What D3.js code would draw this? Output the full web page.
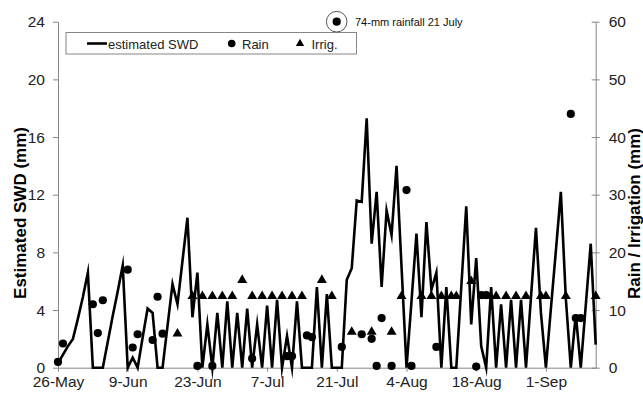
<!DOCTYPE html>
<html><head><meta charset="utf-8">
<script src="https://cdn.jsdelivr.net/npm/d3@7"></script>
<style>
html,body{margin:0;padding:0;background:#fff;}
svg{display:block;font-family:"Liberation Sans",Arial,sans-serif;}
</style></head>
<body><svg id="c" width="643" height="394"></svg>
<script>
// day index 0 = 26-May
const tickDays   = [0, 14, 28, 42, 56, 70, 84, 98];
const tickLabels = ["26-May","9-Jun","23-Jun","7-Jul","21-Jul","4-Aug","18-Aug","1-Sep"];
const swdDays = d3.range(0, 109);
const swd = [0.3,0.9,1.5,2.0,3.4,4.9,6.6,0,0,0, 1.8,3.6,5.3,7.1,0,0.7,0,2.1,4.1,3.8,
  0,0,2.9,5.8,4.4,7.4,10.4,3.5,6.6,0, 3.0,0,3.8,0,4.6,0,3.8,0,4.1,0,
  3.0,0,4.3,0,4.7,0,2.2,0,4.6,0, 0,0,5.6,0,5.1,0,0,0,6.1,6.9,
  11.6,11.5,17.3,8.6,12.2,5.6,10.9,9.2,14.0,7.0, 0,4.6,9.3,3.5,10.1,5.4,6.6,0,5.6,0,
  0,5.6,11.2,3.0,7.6,1.5,0,5.6,0,4.4, 0,4.7,0,4.7,0,4.9,9.7,3.8,0,4.1,
  8.1,12.2,4.8,0,3.7,0,4.3,8.6,1.6];
const rainDays = [0,1,7,8,9,14,15,16,19,20,21,28,31,39,46,47,50,51,57,61,63,64,65,67,70,71,76,84,85,86,103,104,105];
const rainMm   = [1.0,4.2,11.0,6.0,11.7,17.0,3.5,5.8,4.8,12.3,5.9,0.3,0.3,1.6,2.0,2.0,5.6,5.3,3.6,5.8,5.0,0.3,8.6,0.3,30.8,0.3,3.6,0.2,12.6,12.6,44,8.6,8.6];
const irrDays = [24,27,29,31,33,35,37,39,41,43,45,47,49,53,55,59,63,67,69,73,75,77,79,80,83,86,88,90,92,94,97,98,102,108];
const irrMm   = [5.9,12.4,12.4,12.4,12.4,12.4,15.2,12.4,12.4,12.4,12.4,12.4,12.4,15.2,12.4,6.2,6.2,6.2,12.4,12.4,12.4,12.4,12.4,12.4,15.0,12.4,12.4,12.4,12.4,12.4,12.4,12.4,12.4,12.4];
const leftTicks  = [0,4,8,12,16,20,24];
const rightTicks = [0,10,20,30,40,50,60];

const svg = d3.select("#c");
const x = d3.scaleLinear().domain([0,108]).range([58,595.7]);
const yL = d3.scaleLinear().domain([0,24]).range([367.7,21.7]);
const yR = d3.scaleLinear().domain([0,60]).range([367.7,21.7]);
const axisCol = "#868686", txtCol = "#222";

// axes
const gx = svg.append("g").attr("transform","translate(0,367.7)")
  .call(d3.axisBottom(x).tickValues(tickDays).tickFormat((d,i)=>tickLabels[i]).tickSizeInner(4).tickSizeOuter(0).tickPadding(4));
const gl = svg.append("g").attr("transform","translate(58,0)")
  .call(d3.axisLeft(yL).tickValues(leftTicks).tickSizeInner(5).tickSizeOuter(0).tickPadding(8));
const gr = svg.append("g").attr("transform","translate(595.7,0)")
  .call(d3.axisRight(yR).tickValues(rightTicks).tickSizeInner(4).tickSizeOuter(0).tickPadding(9));
gr.selectAll(".tick line").attr("x1",-4);
[gx,gl,gr].forEach(g=>{
  g.select(".domain").attr("stroke",axisCol);
  g.selectAll(".tick line").attr("stroke",axisCol);
  g.selectAll("text").attr("fill",txtCol).style("font-size","15.5px").attr("font-family","Liberation Sans, Arial");
});

// SWD line
const line = d3.line().x((d,i)=>x(swdDays[i])).y(d=>yL(d));
svg.append("path").datum(swd).attr("d",line).attr("fill","none").attr("stroke","#000")
  .attr("stroke-width",2.6).attr("stroke-linejoin","miter").attr("stroke-miterlimit",10);

// rain dots
svg.append("g").selectAll("circle").data(rainDays).join("circle")
  .attr("cx",d=>x(d)).attr("cy",(d,i)=>yR(rainMm[i])).attr("r",4.1).attr("fill","#000");
// irrigation triangles
const tri = d3.symbol().type(d3.symbolTriangle).size(43);
svg.append("g").selectAll("path").data(irrDays).join("path")
  .attr("d",tri).attr("transform",(d,i)=>`translate(${x(d)},${yR(irrMm[i])})`).attr("fill","#000");

// legend
const lg = svg.append("g");
lg.append("rect").attr("x",66).attr("y",32.5).attr("width",290.5).attr("height",21.5)
  .attr("fill","#fff").attr("stroke","#868686");
lg.append("line").attr("x1",87).attr("x2",107).attr("y1",43.5).attr("y2",43.5).attr("stroke","#000").attr("stroke-width",2.6);
lg.append("text").attr("x",108).attr("y",48.5).text("estimated SWD").style("font-size","13px").attr("fill",txtCol);
lg.append("circle").attr("cx",231.7).attr("cy",43.5).attr("r",3.8).attr("fill","#000");
lg.append("text").attr("x",242).attr("y",48.5).text("Rain").style("font-size","13px").attr("fill",txtCol);
lg.append("path").attr("d",d3.symbol().type(d3.symbolTriangle).size(30)).attr("transform","translate(300,43.5)").attr("fill","#000");
lg.append("text").attr("x",311.5).attr("y",48.5).text("Irrig.").style("font-size","13px").attr("fill",txtCol);

// annotation
svg.append("circle").attr("cx",336.7).attr("cy",21.7).attr("r",10.3).attr("fill","none").attr("stroke","#555").attr("stroke-width",1);
svg.append("circle").attr("cx",336.7).attr("cy",21.7).attr("r",4.1).attr("fill","#000");
svg.append("text").attr("x",355).attr("y",26).text("74-mm rainfall 21 July").style("font-size","11px").attr("fill","#111");

// titles
svg.append("text").attr("transform","translate(26,213) rotate(-90)").attr("text-anchor","middle")
  .style("font-size","17px").style("font-weight","bold").text("Estimated SWD (mm)");
svg.append("text").attr("transform","translate(639.5,213.5) rotate(-90)").attr("text-anchor","middle")
  .style("font-size","17px").style("font-weight","bold").text("Rain / Irrigation (mm)");
</script></body></html>
